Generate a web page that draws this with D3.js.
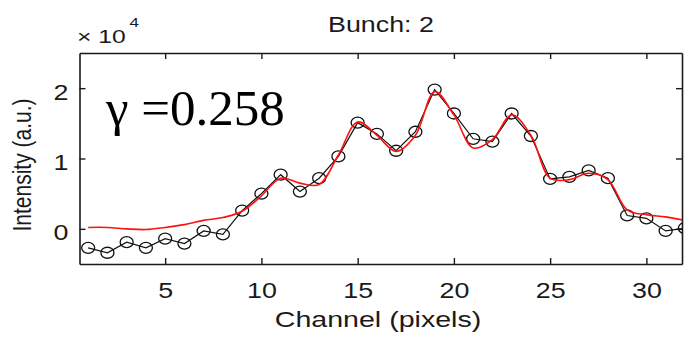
<!DOCTYPE html>
<html>
<head>
<meta charset="utf-8">
<script src="https://cdn.jsdelivr.net/npm/d3@7"></script>
<style>
    body { margin: 0; background: #fff; }
    svg { display: block; }
    .mtext { font-family: "Liberation Sans", Arial, sans-serif; fill: #1a1a1a; }
</style>
</head>
<body>
<div id="chart"></div>
<script>
// channel index (pixels)
var channels = [1, 2, 3, 4, 5, 6, 7, 8, 9, 10, 11, 12, 13, 14, 15, 16,
    17, 18, 19, 20, 21, 22, 23, 24, 25, 26, 27, 28, 29, 30, 31, 32];
// measured intensity (a.u.), black circles
var measured = [-2700, -3400, -1900, -2700, -1400, -2100, -300, -800, 2600, 5000, 7700, 5300,
    7200, 10300, 15100, 13500, 11100, 13800, 19800, 16400, 12800, 12400, 16400, 13200,
    7100, 7400, 8300, 7200, 1900, 1500, -300, 100];
// reconstructed profile, red line
var fitted = [200, 200, 0, -100, 200, 600, 1200, 1600, 2500, 4700, 7200, 6500,
    6300, 10500, 15200, 13300, 11000, 13300, 19500, 16200, 11500, 12700, 16200, 13300,
    7200, 7000, 7900, 7000, 2700, 2000, 1700, 1200];
var xTicks = [5, 10, 15, 20, 25, 30];
var yTicks = [0, 10000, 20000];

var W = 685, H = 337;
var stretch = 1.22; // the figure was resampled wider than tall

var svg = d3.select('#chart').append('svg')
    .attr('width', W)
    .attr('height', H);

var x = d3.scaleLinear().domain([0.55, 31.85]).range([79.5, 682]);
var y = d3.scaleLinear().domain([-5000, 25000]).range([264, 53]);

svg.append('clipPath').attr('id', 'plotclip')
    .append('rect')
    .attr('x', x.range()[0])
    .attr('y', y.range()[1])
    .attr('width', x.range()[1] - x.range()[0])
    .attr('height', y.range()[0] - y.range()[1]);

function styleAxis(g) {
    g.selectAll('path.domain').attr('stroke', '#1a1a1a').attr('stroke-width', 1.6);
    g.selectAll('.tick line').attr('stroke', '#1a1a1a').attr('stroke-width', 1.4);
}

// bottom axis with labels
var gx = svg.append('g')
    .attr('transform', 'translate(0,' + y.range()[0] + ')')
    .call(d3.axisBottom(x).tickValues(xTicks).tickSizeInner(-6).tickSizeOuter(0));
gx.call(styleAxis);
gx.selectAll('.tick text')
    .attr('class', 'mtext')
    .attr('y', 0)
    .attr('dy', 0)
    .attr('transform', 'translate(0,34) scale(' + stretch + ',1)')
    .style('font-size', '22px');

// top axis, ticks only
var gxt = svg.append('g')
    .attr('transform', 'translate(0,' + y.range()[1] + ')')
    .call(d3.axisTop(x).tickValues(xTicks).tickSizeInner(-6).tickSizeOuter(0).tickFormat(''));
gxt.call(styleAxis);

// left axis with labels
var gy = svg.append('g')
    .attr('transform', 'translate(' + x.range()[0] + ',0)')
    .call(d3.axisLeft(y).tickValues(yTicks).tickSizeInner(-6).tickSizeOuter(0)
        .tickFormat(function (d) { return d / 10000; }));
gy.call(styleAxis);
gy.selectAll('.tick text')
    .attr('class', 'mtext')
    .attr('x', 0)
    .attr('dy', 0)
    .attr('text-anchor', 'end')
    .attr('transform', 'translate(-11,11) scale(' + stretch + ',1)')
    .style('font-size', '22px');

// right axis, ticks only
var gyr = svg.append('g')
    .attr('transform', 'translate(' + x.range()[1] + ',0)')
    .call(d3.axisRight(y).tickValues(yTicks).tickSizeInner(-6).tickSizeOuter(0).tickFormat(''));
gyr.call(styleAxis);

svg.selectAll('.tick text').attr('fill', '#1a1a1a');

var plot = svg.append('g').attr('clip-path', 'url(#plotclip)');

var measLine = d3.line()
    .x(function (d, i) { return x(channels[i]); })
    .y(function (d) { return y(d); });

plot.append('path')
    .datum(measured)
    .attr('d', measLine)
    .attr('fill', 'none')
    .attr('stroke', '#111')
    .attr('stroke-width', 1.2);

plot.selectAll('ellipse.meas')
    .data(measured)
    .enter().append('ellipse')
    .attr('class', 'meas')
    .attr('cx', function (d, i) { return x(channels[i]); })
    .attr('cy', function (d) { return y(d); })
    .attr('rx', 6.5)
    .attr('ry', 5.5)
    .attr('fill', 'none')
    .attr('stroke', '#111')
    .attr('stroke-width', 1.3);

var fitLine = d3.line()
    .curve(d3.curveCatmullRom.alpha(0.5))
    .x(function (d, i) { return x(channels[i]); })
    .y(function (d) { return y(d); });

plot.append('path')
    .datum(fitted)
    .attr('d', fitLine)
    .attr('fill', 'none')
    .attr('stroke', '#ff1010')
    .attr('stroke-width', 1.6);

// titles and labels
svg.append('text')
    .attr('class', 'mtext')
    .attr('text-anchor', 'middle')
    .attr('transform', 'translate(381,32) scale(' + stretch + ',1)')
    .style('font-size', '22px')
    .text('Bunch: 2');

svg.append('text')
    .attr('class', 'mtext')
    .attr('text-anchor', 'middle')
    .attr('transform', 'translate(378,327) scale(1.3,1)')
    .style('font-size', '22px')
    .text('Channel (pixels)');

svg.append('text')
    .attr('class', 'mtext')
    .attr('text-anchor', 'middle')
    .attr('transform', 'translate(31,165) scale(' + stretch + ',1) rotate(-90)')
    .style('font-size', '21px')
    .text('Intensity (a.u.)');

var mult = svg.append('text')
    .attr('class', 'mtext')
    .attr('transform', 'translate(77,43) scale(1.3,1)')
    .style('font-size', '19px');
mult.append('tspan').text('\u00d7 10');
mult.append('tspan')
    .attr('dy', -16)
    .attr('dx', 3)
    .style('font-size', '13px')
    .text('4');

svg.append('text')
    .attr('x', 106)
    .attr('y', 125)
    .style('font-family', '"Liberation Serif", "Times New Roman", serif')
    .style('font-size', '51px')
    .attr('fill', '#000')
    .text('\u03b3 =0.258');
</script>
</body>
</html>
